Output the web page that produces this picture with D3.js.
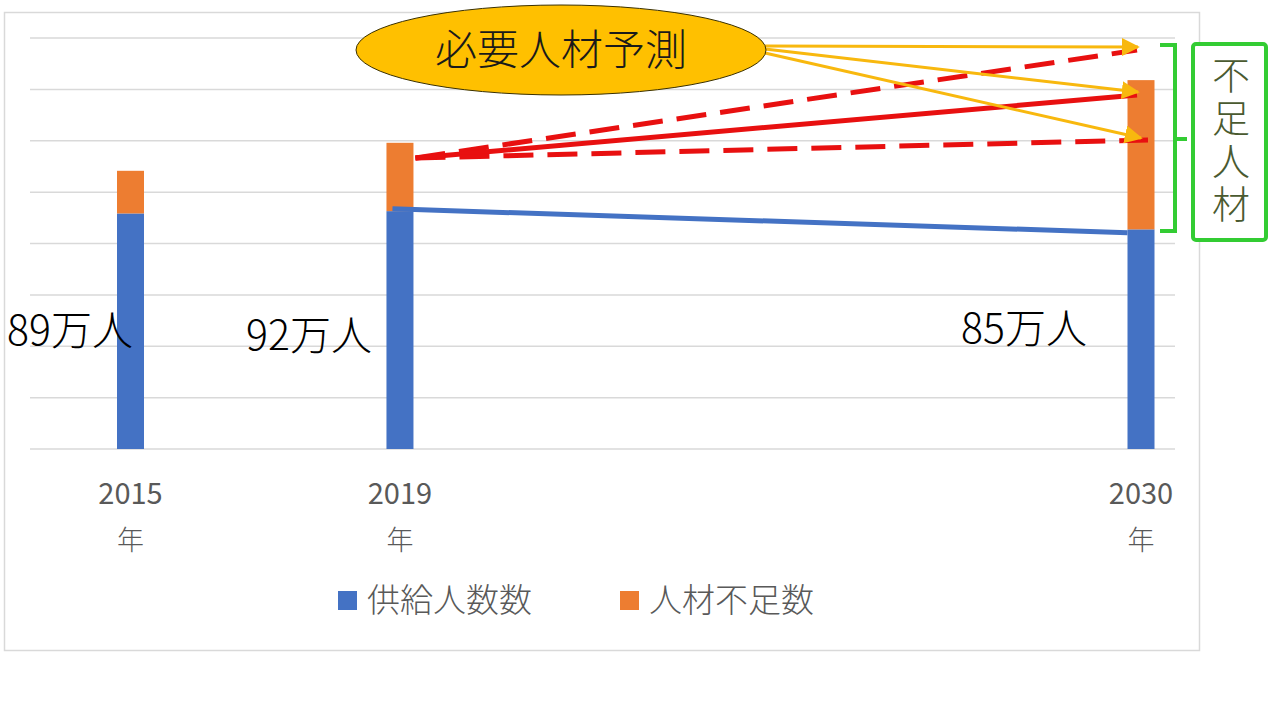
<!DOCTYPE html>
<html><head><meta charset="utf-8">
<script src="https://cdn.jsdelivr.net/npm/d3@7"></script>
<style>
html,body{margin:0;padding:0;background:#fff;}
svg{display:block;font-family:"Noto Sans CJK JP","Noto Sans",sans-serif;font-weight:300;}
</style></head>
<body><svg id="c" width="1280" height="720"></svg>
<script>
// ---- data ----
const years = [2015, 2019, 2030];
const yearLabels = ["2015", "2019", "2030"];
const supply = [91.7, 92.6, 85.5];      // 供給人数数 (万人)
const shortage = [16.6, 26.6, 58.1];    // 人材不足数 (万人)
const valueLabels = ["89万人", "92万人", "85万人"];
const gridTicks = [0, 20, 40, 60, 80, 100, 120, 140, 160];
const seriesNames = ["供給人数数", "人材不足数"];
const seriesColors = ["#4472C4", "#ED7D31"];
// projection lines from 2019 to 2030 (value units)
const projStart = 113.3;
const projEnds = [155.3, 137.8, 120.3];   // high (dashed), mid (solid), low (dashed)
const projDash = [true, false, true];
const supplyTrend = [93.5, 84.2];        // blue line 2019 -> 2030
const calloutText = "必要人材予測";
const shortageBoxText = "不足人材";

const svg = d3.select("#c");
const x = d3.scaleLinear().domain([2015, 2030]).range([130.5, 1141]);
const y = d3.scaleLinear().domain([0, 160]).range([449, 38]);
const barW = 27;

// chart frame
svg.append("rect").attr("x", 4.5).attr("y", 12.5).attr("width", 1195).attr("height", 638)
  .attr("fill", "none").attr("stroke", "#d9d9d9").attr("stroke-width", 1.5);

// gridlines
svg.append("g").selectAll("line").data(gridTicks).join("line")
  .attr("x1", 30).attr("x2", 1175)
  .attr("y1", d => y(d)).attr("y2", d => y(d))
  .attr("stroke", "#d9d9d9").attr("stroke-width", 1.5);

// stacked bars
const stackData = years.map((yr, i) => ({year: yr, s: supply[i], g: shortage[i]}));
const stack = d3.stack().keys(["s", "g"])(stackData);
svg.append("g").selectAll("g").data(stack).join("g")
  .attr("fill", (d, i) => seriesColors[i])
  .selectAll("rect").data(d => d).join("rect")
  .attr("x", d => x(d.data.year) - barW / 2)
  .attr("width", barW)
  .attr("y", d => y(d[1]))
  .attr("height", d => y(d[0]) - y(d[1]));

// x labels
const xl = svg.append("g").attr("fill", "#595959").attr("font-size", 29).attr("font-weight", 400).attr("text-anchor", "middle");
years.forEach((yr, i) => {
  xl.append("text").attr("x", x(yr)).attr("y", 504).text(yearLabels[i]);
  xl.append("text").attr("x", x(yr)).attr("y", 550).attr("font-size", 27).attr("font-weight", 300).text("年");
});

// legend
const lg = svg.append("g").attr("font-size", 33).attr("fill", "#595959");
[[338, 0], [620, 1]].forEach(([lx, i]) => {
  lg.append("rect").attr("x", lx).attr("y", 591).attr("width", 19).attr("height", 19).attr("fill", seriesColors[i]);
  lg.append("text").attr("x", lx + 29).attr("y", 612).text(seriesNames[i]);
});

// value labels
const vlx = [70, 309, 1024];
const vly = [345, 350, 343];
svg.append("g").attr("font-size", 41).attr("fill", "#000").attr("text-anchor", "middle")
  .selectAll("text").data(valueLabels).join("text")
  .attr("x", (d, i) => vlx[i]).attr("y", (d, i) => vly[i]).text(d => d);

// supply trend line (blue)
svg.append("line")
  .attr("x1", x(2019) - barW / 2 + 6).attr("y1", y(supplyTrend[0]))
  .attr("x2", x(2030) - barW / 2).attr("y2", y(supplyTrend[1]))
  .attr("stroke", "#4472C4").attr("stroke-width", 5);

// projection red lines
const px0 = x(2019) + barW / 2 + 2;
const pxEnd = [x(2030) - 4, x(2030) - 4, x(2030) + 7];
svg.append("g").selectAll("line").data(projEnds).join("line")
  .attr("x1", px0).attr("y1", y(projStart))
  .attr("x2", (d, i) => pxEnd[i]).attr("y2", d => y(d))
  .attr("stroke", "#E81010").attr("stroke-width", 5)
  .attr("stroke-dasharray", (d, i) => projDash[i] ? "30 14" : null);

// yellow arrows
const defs = svg.append("defs");
defs.append("marker").attr("id", "ah").attr("viewBox", "0 0 10 10").attr("refX", 9).attr("refY", 5)
  .attr("markerWidth", 6).attr("markerHeight", 6).attr("orient", "auto-start-reverse")
  .append("path").attr("d", "M0,0 L10,5 L0,10 z").attr("fill", "#F8B80E");
const arrowStartY = [46, 49, 53];
const arrowEnd = [[x(2030) - 3, y(projEnds[0]) - 3], [x(2030) - 3, y(projEnds[1]) - 3], [x(2030), y(projEnds[2]) - 2]];
svg.append("g").selectAll("line").data(arrowEnd).join("line")
  .attr("x1", 765).attr("y1", (d, i) => arrowStartY[i])
  .attr("x2", d => d[0]).attr("y2", d => d[1])
  .attr("stroke", "#F8B80E").attr("stroke-width", 3).attr("marker-end", "url(#ah)");

// callout ellipse
svg.append("ellipse").attr("cx", 561).attr("cy", 50).attr("rx", 205).attr("ry", 45)
  .attr("fill", "#FFC000").attr("stroke", "#3a3000").attr("stroke-width", 1);
svg.append("text").attr("x", 561).attr("y", 65).attr("text-anchor", "middle")
  .attr("font-size", 42).attr("fill", "#1a1a1a").text(calloutText);

// green bracket
svg.append("path")
  .attr("d", "M1160,45 H1175 V139 H1187 M1175,139 V231 H1160")
  .attr("fill", "none").attr("stroke", "#33CC33").attr("stroke-width", 4);
svg.append("rect").attr("x", 1193).attr("y", 44).attr("width", 73).attr("height", 196).attr("rx", 3)
  .attr("fill", "#fff").attr("stroke", "#33CC33").attr("stroke-width", 4);
svg.append("text").attr("x", 1231).attr("y", 56)
  .attr("writing-mode", "vertical-rl").style("writing-mode", "vertical-rl")
  .attr("font-size", 38).attr("letter-spacing", 5).attr("fill", "#4a5a30")
  .text(shortageBoxText);
</script></body></html>
